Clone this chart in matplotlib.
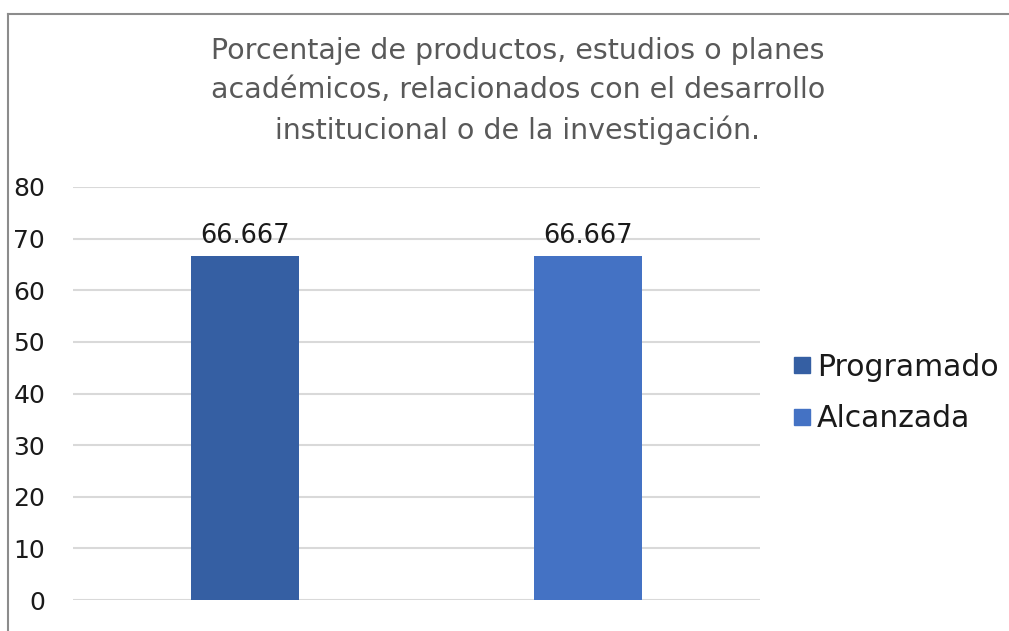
import numpy as np
import matplotlib.pyplot as plt
from matplotlib.lines import Line2D

series = ["Programado", "Alcanzada"]
values = [66.667, 66.667]
colors = ["#355FA3", "#4472C4"]
yticks = [0, 10, 20, 30, 40, 50, 60, 70, 80]
title = ("Porcentaje de productos, estudios o planes\n"
         "académicos, relacionados con el desarrollo\n"
         "institucional o de la investigación.")

plt.rcParams['font.family'] = ['DejaVu Sans']

fig = plt.figure(figsize=(10.09, 6.31), dpi=100)
W, H = 1009, 631
ax = fig.add_axes([73 / W, 1 - 600 / H, (760 - 73) / W, (600 - 187) / H])

x = np.arange(len(series))
bars = ax.bar(x, values, width=0.315, color=colors, zorder=3)
for b, v in zip(bars, values):
    ax.text(b.get_x() + b.get_width() / 2, v + 1.3, f"{v:g}",
            ha="center", va="bottom", fontsize=18.5, color="#1a1a1a")

ax.set_ylim(0, 80)
ax.set_xlim(-0.5, 1.5)
ax.set_yticks(yticks)
ax.set_xticks([])
ax.tick_params(axis="y", length=0, labelsize=18, labelcolor="#1a1a1a", pad=20)
ax.grid(axis="y", color="#d9d9d9", linewidth=1.5, zorder=0)
for s in ax.spines.values():
    s.set_visible(False)

fig.text(518 / W, 1 - 91 / H, title, ha="center", va="center",
         fontsize=20.5, color="#595959", linespacing=1.5)

handles = [Line2D([], [], marker="s", linestyle="", markersize=11,
                  color=c) for c in colors]
fig.legend(handles, series, loc="center left",
           bbox_to_anchor=(757 / W, 1 - 393 / H), frameon=False,
           fontsize=21.5, handletextpad=-0.1, labelspacing=0.75,
           handlelength=1.2, labelcolor="#1a1a1a")

# chart border (cropped)
fig.add_artist(Line2D([8 / W, 8 / W], [0, 1 - 14 / H], color="#8c8c8c",
                      linewidth=1.5, transform=fig.transFigure))
fig.add_artist(Line2D([8 / W, 1008 / W], [1 - 14 / H, 1 - 14 / H],
                      color="#8c8c8c", linewidth=1.5,
                      transform=fig.transFigure))

fig.savefig("out.png", dpi=100)
